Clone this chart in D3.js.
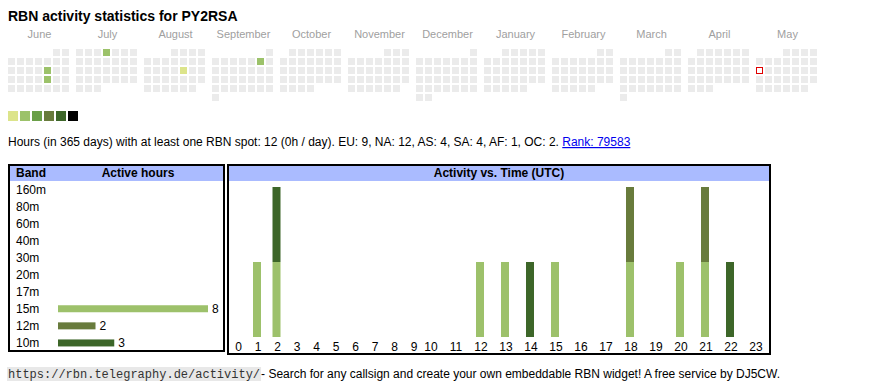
<!DOCTYPE html>
<html lang="en">
<head>
<meta charset="UTF-8">
<title>RBN activity statistics for PY2RSA</title>
<script src="https://cdn.jsdelivr.net/npm/d3@7/dist/d3.min.js"></script>
<style>
  * { margin: 0; padding: 0; box-sizing: border-box; }
  body { background: #fff; }
</style>
</head>
<body>
<svg id="chart" width="870" height="390" font-family="Arial, 'Liberation Sans', sans-serif"></svg>
<script>
// ─── Data ────────────────────────────────────────────────────────────────────

const callsign = 'PY2RSA';
const months = ['June', 'July', 'August', 'September', 'October', 'November',
                'December', 'January', 'February', 'March', 'April', 'May'];
const firstMonth = new Date(2024, 5, 1);
const today = new Date(2025, 4, 12);

// days with spots, and their colour level (0 = lightest)
const activeDays  = ['2024-06-14', '2024-06-21', '2024-07-04', '2024-08-16', '2024-09-07'];
const activeLevel = [1, 1, 1, 0, 1];
const levelColors = ['#dce48b', '#9cc26a', '#6a9f48', '#687b3c', '#3d6629', '#000000'];

const bands = ['160m', '80m', '60m', '40m', '30m', '20m', '17m', '15m', '12m', '10m'];
const bandHours = [0, 0, 0, 0, 0, 0, 0, 8, 2, 3];
const bandColors = { '15m': '#9dc16b', '12m': '#687b3c', '10m': '#3d6629' };

const hours = d3.range(24);
//                0  1  2  3  4  5  6  7  8  9 10 11 12 13 14 15 16 17 18 19 20 21 22 23
const act15m  = [0, 1, 1, 0, 0, 0, 0, 0, 0, 0, 0, 0, 1, 1, 0, 1, 0, 0, 1, 0, 1, 1, 0, 0];
const act12m  = [0, 0, 0, 0, 0, 0, 0, 0, 0, 0, 0, 0, 0, 0, 0, 0, 0, 0, 1, 0, 0, 1, 0, 0];
const act10m  = [0, 0, 1, 0, 0, 0, 0, 0, 0, 0, 0, 0, 0, 0, 1, 0, 0, 0, 0, 0, 0, 0, 1, 0];

const infoText = 'Hours (in 365 days) with at least one RBN spot: 12 (0h / day). EU: 9, NA: 12, AS: 4, SA: 4, AF: 1, OC: 2. ';
const rankText = 'Rank: 79583';
const footUrl  = 'https://rbn.telegraphy.de/activity/';
const footText = ' - Search for any callsign and create your own embeddable RBN widget! A free service by DJ5CW.';

// ─── Page ────────────────────────────────────────────────────────────────────

const svg = d3.select('#chart');
const HEAD_BLUE = '#aabbff';

svg.append('text')
  .attr('x', 8).attr('y', 21)
  .attr('font-size', 14).attr('font-weight', 'bold')
  .text('RBN activity statistics for ' + callsign);

// ─── Calendar ────────────────────────────────────────────────────────────────

const xMonth = d3.scaleBand().domain(months).range([8, 819]).paddingInner(5 / 68);
const xDow   = d3.scaleBand().domain(d3.range(7)).range([0, 61]).paddingInner(2 / 9);
const yWeek  = d3.scaleBand().domain(d3.range(6)).range([49, 101]).paddingInner(2 / 9);

const fmt = d3.timeFormat('%Y-%m-%d');
const levelByDay = new Map(activeDays.map((d, i) => [d, activeLevel[i]]));

svg.append('g').selectAll('text')
  .data(months)
  .join('text')
  .attr('x', d => xMonth(d) + xMonth.bandwidth() / 2)
  .attr('y', 38)
  .attr('text-anchor', 'middle')
  .attr('font-size', 11)
  .attr('fill', '#a0a0a0')
  .text(d => d);

const monthStarts = d3.timeMonth.range(firstMonth, d3.timeMonth.offset(firstMonth, 12));
const days = [];
monthStarts.forEach((m, mi) => {
  const wk0 = d3.timeMonday.floor(m);
  d3.timeDay.range(m, d3.timeMonth.offset(m, 1)).forEach(d => {
    days.push({ date: d, month: months[mi], dow: (d.getDay() + 6) % 7, week: d3.timeMonday.count(wk0, d) });
  });
});

svg.append('g').selectAll('rect')
  .data(days)
  .join('rect')
  .attr('x', d => xMonth(d.month) + xDow(d.dow))
  .attr('y', d => yWeek(d.week))
  .attr('width', xDow.bandwidth())
  .attr('height', yWeek.bandwidth())
  .attr('fill', d => levelByDay.has(fmt(d.date)) ? levelColors[levelByDay.get(fmt(d.date))] : '#ebebeb');

const todayCell = days.find(d => +d.date === +today);
svg.append('rect')
  .attr('x', xMonth(todayCell.month) + xDow(todayCell.dow) + 0.5)
  .attr('y', yWeek(todayCell.week) + 0.5)
  .attr('width', xDow.bandwidth() - 1)
  .attr('height', yWeek.bandwidth() - 1)
  .attr('fill', '#fff')
  .attr('stroke', '#e00000');

// legend swatches
const xLegend = d3.scaleBand().domain(d3.range(levelColors.length)).range([8, 78]).paddingInner(2 / 12);
svg.append('g').selectAll('rect')
  .data(levelColors)
  .join('rect')
  .attr('x', (d, i) => xLegend(i))
  .attr('y', 111)
  .attr('width', xLegend.bandwidth())
  .attr('height', 10)
  .attr('fill', d => d);

// info line
const info = svg.append('text').attr('x', 8).attr('y', 146).attr('font-size', 12);
info.append('tspan').text(infoText);
info.append('tspan').attr('fill', '#0000ee').style('text-decoration', 'underline').text(rankText);

// ─── Band table ──────────────────────────────────────────────────────────────

svg.append('rect').attr('x', 9).attr('y', 165).attr('width', 215).attr('height', 186)
  .attr('fill', 'none').attr('stroke', '#000').attr('stroke-width', 2);
svg.append('rect').attr('x', 10).attr('y', 166).attr('width', 213).attr('height', 15).attr('fill', HEAD_BLUE);
svg.append('text').attr('x', 16).attr('y', 177).attr('font-size', 12).attr('font-weight', 'bold').text('Band');
svg.append('text').attr('x', 138).attr('y', 177).attr('font-size', 12).attr('font-weight', 'bold')
  .attr('text-anchor', 'middle').text('Active hours');

const yBand = d3.scaleBand().domain(bands).range([181, 352]);
const xHours = d3.scaleLinear().domain([0, 8]).range([58, 208]);

const bandRows = svg.append('g').selectAll('g')
  .data(bands.map((b, i) => ({ band: b, hours: bandHours[i] })))
  .join('g')
  .attr('transform', d => `translate(0,${yBand(d.band) + yBand.bandwidth() / 2})`);

bandRows.append('text')
  .attr('x', 16).attr('y', 4)
  .attr('font-size', 12)
  .text(d => d.band);

const withHours = bandRows.filter(d => d.hours > 0);
withHours.append('rect')
  .attr('x', xHours(0))
  .attr('y', -4)
  .attr('width', d => xHours(d.hours) - xHours(0))
  .attr('height', 7)
  .attr('fill', d => bandColors[d.band]);
withHours.append('text')
  .attr('x', d => xHours(d.hours) + 4)
  .attr('y', 4)
  .attr('font-size', 12)
  .text(d => d.hours);

// ─── Activity vs. time ───────────────────────────────────────────────────────

svg.append('rect').attr('x', 228).attr('y', 165).attr('width', 542).attr('height', 189)
  .attr('fill', 'none').attr('stroke', '#000').attr('stroke-width', 2);
svg.append('rect').attr('x', 229).attr('y', 166).attr('width', 540).attr('height', 15).attr('fill', HEAD_BLUE);
svg.append('text').attr('x', 499).attr('y', 177).attr('font-size', 12).attr('font-weight', 'bold')
  .attr('text-anchor', 'middle').text('Activity vs. Time (UTC)');

// table columns: one-digit hours are narrower than two-digit ones
const xHour = d3.scaleLinear().domain([0, 9, 10, 23]).range([237.5, 413, 430, 755]);
const yAct  = d3.scaleLinear().domain([0, 2]).range([337, 187]);

const table = hours.map(h => ({ hour: h, '15m': act15m[h], '12m': act12m[h], '10m': act10m[h] }));
const stacked = d3.stack().keys(['15m', '12m', '10m'])(table);

svg.append('g').selectAll('g')
  .data(stacked)
  .join('g')
  .attr('fill', s => bandColors[s.key])
  .selectAll('rect')
  .data(s => s.filter(d => d[1] > d[0]))
  .join('rect')
  .attr('x', d => xHour(d.data.hour) - 4)
  .attr('y', d => yAct(d[1]))
  .attr('width', 8)
  .attr('height', d => yAct(d[0]) - yAct(d[1]));

svg.append('g').selectAll('text')
  .data(hours)
  .join('text')
  .attr('x', h => xHour(h) + 1)
  .attr('y', 351)
  .attr('text-anchor', 'middle')
  .attr('font-size', 12)
  .text(h => h);

// ─── Footer ──────────────────────────────────────────────────────────────────

const foot = svg.append('g');
const urlText = foot.append('text')
  .attr('x', 8).attr('y', 378)
  .attr('font-family', "'Courier New', 'Liberation Mono', monospace")
  .attr('font-size', 12).attr('fill', '#333')
  .text(footUrl);
const ub = urlText.node().getBBox();
foot.insert('rect', 'text')
  .attr('x', ub.x - 1).attr('y', 367).attr('width', ub.width + 2).attr('height', 14)
  .attr('fill', '#e8e8e8');
foot.append('text')
  .attr('x', ub.x + ub.width + 1).attr('y', 378)
  .attr('font-size', 12)
  .text(footText);
</script>
</body>
</html>
